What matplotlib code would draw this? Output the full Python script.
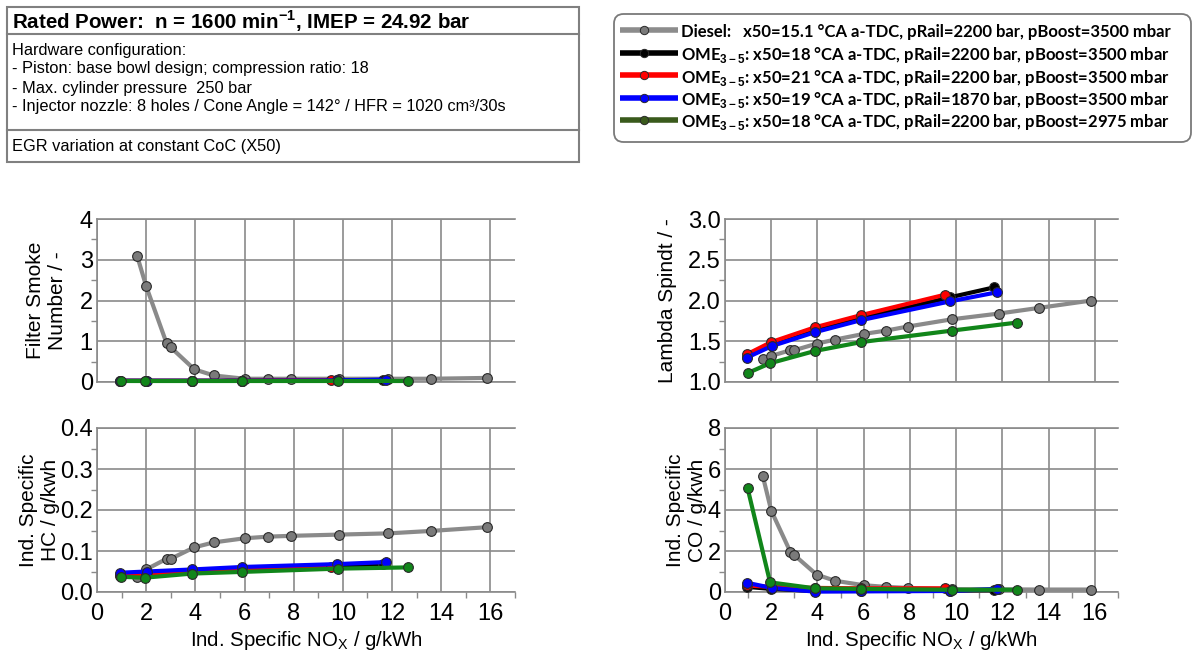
import matplotlib
matplotlib.use("Agg")
import matplotlib.pyplot as plt
from matplotlib.lines import Line2D
from matplotlib.patches import Rectangle, FancyBboxPatch
from matplotlib.ticker import MultipleLocator

plt.rcParams['font.family'] = ['Liberation Sans', 'DejaVu Sans']
plt.rcParams['mathtext.fontset'] = 'custom'
plt.rcParams['mathtext.rm'] = 'Liberation Sans'
plt.rcParams['mathtext.bf'] = 'Liberation Sans:bold'

# ---- measured data: NOx (x) versus emissions per series ----
diesel_nox = [1.63, 2.0, 2.83, 3.0, 3.96, 4.75, 6.0, 6.95, 7.9, 9.83, 11.85, 13.6, 15.85]
diesel_fsn = [3.1, 2.35, 0.95, 0.85, 0.31, 0.16, 0.08, 0.08, 0.08, 0.08, 0.08, 0.08, 0.1]
diesel_lambda = [1.28, 1.32, 1.39, 1.39, 1.47, 1.52, 1.59, 1.63, 1.68, 1.77, 1.84, 1.91, 2.0]
diesel_hc = [0.036, 0.055, 0.081, 0.081, 0.109, 0.121, 0.131, 0.135, 0.137, 0.140, 0.143, 0.149, 0.158]
diesel_co = [5.68, 3.97, 1.95, 1.8, 0.85, 0.55, 0.33, 0.25, 0.2, 0.14, 0.13, 0.12, 0.12]

ome18_nox = [0.95, 2.0, 3.88, 5.9, 9.75, 11.62]
ome18_fsn = [0.03, 0.03, 0.03, 0.03, 0.04, 0.05]
ome18_lambda = [1.31, 1.46, 1.63, 1.78, 2.04, 2.16]
ome18_hc = [0.042, 0.046, 0.05, 0.055, 0.063, 0.068]
ome18_co = [0.25, 0.15, 0.05, 0.05, 0.07, 0.08]

ome21_nox = [0.95, 2.0, 3.88, 5.88, 9.5]
ome21_fsn = [0.03, 0.03, 0.03, 0.03, 0.05]
ome21_lambda = [1.34, 1.49, 1.67, 1.82, 2.07]
ome21_hc = [0.04, 0.044, 0.048, 0.053, 0.062]
ome21_co = [0.32, 0.25, 0.2, 0.18, 0.18]

ome19_nox = [0.95, 2.02, 3.88, 5.9, 9.75, 11.75]
ome19_fsn = [0.03, 0.03, 0.03, 0.03, 0.04, 0.06]
ome19_lambda = [1.30, 1.44, 1.61, 1.76, 1.99, 2.10]
ome19_hc = [0.047, 0.05, 0.055, 0.061, 0.068, 0.073]
ome19_co = [0.45, 0.2, 0.02, 0.03, 0.05, 0.15]

omelb_nox = [0.98, 1.95, 3.88, 5.9, 9.8, 12.65]
omelb_fsn = [0.03, 0.03, 0.03, 0.03, 0.03, 0.03]
omelb_lambda = [1.11, 1.23, 1.38, 1.49, 1.63, 1.73]
omelb_hc = [0.037, 0.035, 0.045, 0.049, 0.057, 0.06]
omelb_co = [5.05, 0.47, 0.18, 0.15, 0.11, 0.11]

legend_labels = [
    r'Diesel:   x50=15.1 °CA a-TDC, pRail=2200 bar, pBoost=3500 mbar',
    r'OME$_{\mathbf{3-5}}$: x50=18 °CA a-TDC, pRail=2200 bar, pBoost=3500 mbar',
    r'OME$_{\mathbf{3-5}}$: x50=21 °CA a-TDC, pRail=2200 bar, pBoost=3500 mbar',
    r'OME$_{\mathbf{3-5}}$: x50=19 °CA a-TDC, pRail=1870 bar, pBoost=3500 mbar',
    r'OME$_{\mathbf{3-5}}$: x50=18 °CA a-TDC, pRail=2200 bar, pBoost=2975 mbar',
]

series = [
    dict(x=diesel_nox, fsn=diesel_fsn, lam=diesel_lambda, hc=diesel_hc, co=diesel_co,
         color='#8a8a8a', mfc='#7a7a7a', leg='#8c8c8c'),
    dict(x=ome18_nox, fsn=ome18_fsn, lam=ome18_lambda, hc=ome18_hc, co=ome18_co,
         color='#000000', mfc='#000000', leg='#000000'),
    dict(x=ome21_nox, fsn=ome21_fsn, lam=ome21_lambda, hc=ome21_hc, co=ome21_co,
         color='#ff0000', mfc='#ff0000', leg='#ff0000'),
    dict(x=ome19_nox, fsn=ome19_fsn, lam=ome19_lambda, hc=ome19_hc, co=ome19_co,
         color='#0000ff', mfc='#0000ff', leg='#0000ff'),
    dict(x=omelb_nox, fsn=omelb_fsn, lam=omelb_lambda, hc=omelb_hc, co=omelb_co,
         color='#11861a', mfc='#11861a', leg='#3a5a1c'),
]

W, H = 1196, 661
fig = plt.figure(figsize=(W / 100, H / 100), dpi=100)


def fx(px):
    return px / W


def fy(py):
    return 1 - py / H


def make_axes(x0, x1, y0, y1):
    return fig.add_axes([fx(x0), fy(y1), fx(x1) - fx(x0), fy(y0) - fy(y1)])


ax_fsn = make_axes(97, 515, 219, 382)
ax_lam = make_axes(725, 1118, 219, 382)
ax_hc = make_axes(97, 515, 428, 592)
ax_co = make_axes(725, 1118, 428, 592)

# axes, key, y-range, major step, minor step, label, tick format, x labels, label x (axes coords)
panels = [
    (ax_fsn, 'fsn', (0, 4), 1, 0.5, 'Filter Smoke\nNumber / -', '{:.0f}', False, -0.072),
    (ax_lam, 'lam', (1, 3), 0.5, 0.25, 'Lambda Spindt / -', '{:.1f}', False, -0.122),
    (ax_hc, 'hc', (0, 0.4), 0.1, 0.05, 'Ind. Specific\nHC / g/kwh', '{:.1f}', True, -0.088),
    (ax_co, 'co', (0, 8), 2, 1, 'Ind. Specific\nCO / g/kwh', '{:.0f}', True, -0.046),
]

grid_c = '#8a8a8a'
for ax, key, ylim, major, minor, ylabel, fmt, xlab, lab_x in panels:
    ax.set_xlim(0, 17)
    ax.set_ylim(*ylim)
    ax.xaxis.set_major_locator(MultipleLocator(2))
    ax.xaxis.set_minor_locator(MultipleLocator(1))
    ax.yaxis.set_major_locator(MultipleLocator(major))
    ax.yaxis.set_minor_locator(MultipleLocator(minor))
    ax.grid(True, which='major', color=grid_c, lw=1.2)
    ax.set_axisbelow(True)
    for side in ('left', 'bottom', 'top'):
        ax.spines[side].set_color(grid_c)
        ax.spines[side].set_linewidth(1.2)
    ax.spines['right'].set_visible(False)
    ax.tick_params(which='both', direction='out', color=grid_c, width=1.0)
    ax.tick_params(which='major', length=0, labelsize=17)
    ax.tick_params(axis='y', which='major', pad=3)
    ax.tick_params(axis='x', which='major', pad=8)
    ax.tick_params(which='minor', length=4)
    ax.set_yticks(ax.get_yticks())
    ax.set_yticklabels([fmt.format(v) for v in ax.get_yticks()])
    ax.set_ylim(*ylim)
    ax.set_ylabel(ylabel, fontsize=15, linespacing=1.22)
    ax.yaxis.set_label_coords(lab_x, 0.5)
    if xlab:
        ax.set_xlabel(r'Ind. Specific NO$_\mathregular{X}$ / g/kWh', fontsize=14.7, labelpad=3)
    else:
        ax.tick_params(axis='x', which='both', labelbottom=False, length=0)
    for s in series:
        ax.plot(s['x'], s[key], color=s['color'], lw=3.0, marker='o', ms=7,
                mfc=s['mfc'], mec='#2a2a2a', mew=0.8, solid_capstyle='round',
                clip_on=False, zorder=3)

# ---- header information box ----
box_c = '#808080'
fig.add_artist(Rectangle((fx(7), fy(162)), fx(579) - fx(7), fy(7) - fy(162),
                         transform=fig.transFigure, fill=False, ec=box_c, lw=1.5))
for yy in (34, 130):
    fig.add_artist(Line2D([fx(7), fx(579)], [fy(yy), fy(yy)],
                          transform=fig.transFigure, color=box_c, lw=1.5))
fig.text(fx(12), fy(21), r'Rated Power:  n = 1600 min$^{\mathbf{-1}}$, IMEP = 24.92 bar',
         fontsize=14.8, fontweight='bold', va='center', ha='left')
info_lines = [
    'Hardware configuration:',
    '- Piston: base bowl design; compression ratio: 18',
    '- Max. cylinder pressure  250 bar',
    '- Injector nozzle: 8 holes / Cone Angle = 142° / HFR = 1020 cm³/30s',
]
for i, t in enumerate(info_lines):
    fig.text(fx(12), fy(50 + i * 19), t, fontsize=11.8, va='center', ha='left')
fig.text(fx(12), fy(147), 'EGR variation at constant CoC (X50)', fontsize=11.8,
         va='center', ha='left')

# ---- legend box with one row per series ----
fig.add_artist(FancyBboxPatch((fx(614), fy(142)), fx(1191) - fx(614), fy(14) - fy(142),
                              boxstyle='round,pad=0,rounding_size=0.008',
                              transform=fig.transFigure, fc='white', ec='#7a7a7a',
                              lw=1.3, mutation_aspect=W / H))
for i, (s, lab) in enumerate(zip(series, legend_labels)):
    yy = fy(30 + 22.5 * i)
    mfc = '#7a7a7a' if i == 0 else s['leg']
    fig.add_artist(Line2D([fx(620), fx(678)], [yy, yy], transform=fig.transFigure,
                          color=s['leg'], lw=4, solid_capstyle='butt'))
    fig.add_artist(Line2D([fx(644)], [yy], transform=fig.transFigure, marker='o',
                          ms=6, mfc=mfc, mec='#2a2a2a', mew=0.7, lw=0))
    fig.text(fx(681), yy, lab, fontsize=12.0, fontweight='bold',
             family=['Lato', 'DejaVu Sans'], va='center_baseline', ha='left')

fig.savefig('out.png', dpi=100)
